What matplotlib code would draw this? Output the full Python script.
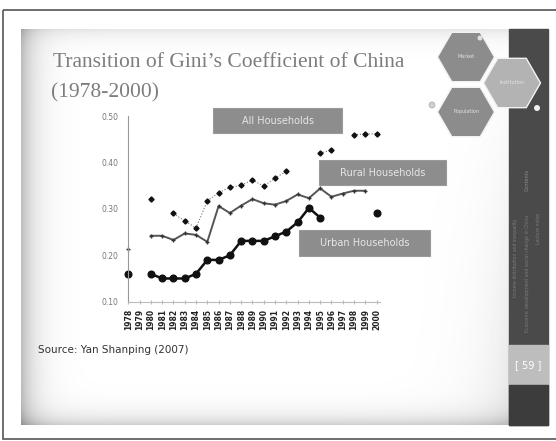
import numpy as np
import matplotlib.pyplot as plt
from matplotlib.patches import Rectangle, RegularPolygon, Circle

# Gini coefficients (missing years left as nan)
years = list(range(1978, 2001))
nan = np.nan
all_households = [nan, nan, 0.322, nan, 0.290, 0.274, 0.259, 0.317, 0.335, 0.346,
                  0.351, 0.362, 0.349, 0.366, 0.381, nan, nan, 0.420, 0.427, nan,
                  0.460, 0.461, 0.462]
rural_households = [0.213, nan, 0.242, 0.242, 0.233, 0.247, 0.244, 0.229, 0.306, 0.291,
                    0.307, 0.321, 0.312, 0.309, 0.317, 0.331, 0.323, 0.344, 0.326, 0.333,
                    0.339, 0.339, nan]
urban_households = [0.160, nan, 0.160, 0.150, 0.150, 0.150, 0.160, 0.190, 0.190, 0.200,
                    0.231, 0.231, 0.231, 0.241, 0.251, 0.271, 0.302, 0.281, nan, nan,
                    nan, nan, 0.292]
yticks = [0.10, 0.20, 0.30, 0.40, 0.50]
series_labels = ["All Households", "Rural Households", "Urban Households"]

fig = plt.figure(figsize=(5.56, 4.41), dpi=100)

# slide background drawn in pixel coordinates
bg = fig.add_axes([0, 0, 1, 1])
bg.set_xlim(0, 556)
bg.set_ylim(441, 0)
bg.axis("off")

bg.add_patch(Rectangle((3, 10), 560, 429, fill=False, ec="#555555", lw=1.2))

h, w = 396, 488
yy, xx = np.mgrid[0:h, 0:w]
shade = (0.26 * np.exp(-xx / 14) + 0.18 * np.exp(-(h - 1 - yy) / 10)
         + 0.10 * np.exp(-yy / 9) + 0.10 * np.exp(-(w - 1 - xx) / 30) * (yy / h))
img = np.clip(1 - shade, 0, 1)
bg.imshow(img, cmap="gray", vmin=0, vmax=1, extent=[21, 509, 425, 29],
          aspect="auto", interpolation="bilinear", zorder=0)

# dark side bar
bg.add_patch(Rectangle((509, 29), 39, 396, color="#4a4a4a", zorder=1))
bg.add_patch(Rectangle((509, 345), 39, 40, color="#bdbdbd", zorder=1))
bg.add_patch(Rectangle((509, 385), 39, 40, color="#3c3c3c", zorder=1))
bg.text(528, 365, "[ 59 ]", color="white", fontsize=7, ha="center", va="center", zorder=2)
bg.text(527, 180, "Contents", rotation=90, color="#8a8a8a", fontsize=3.5,
        ha="center", va="center", zorder=2)
bg.text(516, 258, "Income distribution and inequality", rotation=90, color="#7a7a7a",
        fontsize=3.3, ha="center", va="center", zorder=2)
bg.text(527, 273, "Economic development and social change in China", rotation=90,
        color="#7a7a7a", fontsize=3.3, ha="center", va="center", zorder=2)
bg.text(538, 228, "Lecture notes", rotation=90, color="#7a7a7a", fontsize=3.3,
        ha="center", va="center", zorder=2)

# hexagons top right
hexes = [((466, 57), "#8c8c8c", "Market"), ((512, 83), "#b3b3b3", "Institution"),
         ((466, 112), "#8c8c8c", "Population")]
for (cx, cy), fc, txt in hexes:
    bg.add_patch(RegularPolygon((cx, cy), 6, radius=28.5, orientation=np.pi / 6,
                                fc=fc, ec="#f2f2f2", lw=1, zorder=3))
    bg.text(cx, cy, txt, color="#e4e4e4", fontsize=3.5, ha="center", va="center", zorder=4)
bg.add_patch(Circle((480, 38), 2.5, fc="#e0e0e0", ec="none", zorder=4))
bg.add_patch(Circle((432, 105), 3, fc="#cfcfcf", ec="#aaaaaa", lw=0.5, zorder=4))
bg.add_patch(Circle((537, 108), 3, fc="#f0f0f0", ec="none", zorder=4))

# title and source
bg.text(53, 67, "Transition of Gini\u2019s Coefficient of China", family="Liberation Serif",
        fontsize=15.5, color="#7d7d7d", va="baseline", zorder=2)
bg.text(51, 97, "(1978-2000)", family="Liberation Serif", fontsize=15.5,
        color="#7d7d7d", va="baseline", zorder=2)
bg.text(38, 350, "Source: Yan Shanping (2007)", fontsize=7.5, color="#333333",
        va="center", zorder=2)

# label boxes
boxes = [(213, 108, 129, 25), (319, 160, 127, 25), (299, 230, 131, 26)]
for (bx, by, bw, bh), label in zip(boxes, series_labels):
    bg.add_patch(Rectangle((bx, by), bw, bh, fc="#8d8d8d", ec="#9a9a9a", lw=0.8, zorder=3))
    bg.text(bx + bw / 2, by + bh / 2, label, color="#e6e6e6", fontsize=7,
            ha="center", va="center", zorder=4)

# chart
ax = fig.add_axes([128.3 / 556, 1 - 301.7 / 441, (380 - 128.3) / 556, (301.7 - 116) / 441])
ax.patch.set_alpha(0)
x = np.arange(len(years))
ax.set_xlim(0, 22.3)
ax.set_ylim(0.1, 0.5)

ax.plot(x, all_households, ls=":", color="#777777", lw=0.8, marker="D", ms=2.6,
        mfc="#111111", mec="#111111", clip_on=False)
ax.plot(x, rural_households, color="#555555", lw=1.4, marker="+", ms=3.5,
        mec="#333333", clip_on=False)
ax.plot(x, urban_households, color="#111111", lw=1.8, marker="o", ms=4.8,
        mfc="#111111", mec="#111111", clip_on=False)

for side in ["top", "right"]:
    ax.spines[side].set_visible(False)
ax.spines["left"].set_color("#999999")
ax.spines["bottom"].set_color("#bbbbbb")

ax.set_xticks(x)
ax.set_xticklabels([str(y) for y in years], rotation=90, fontsize=5.5,
                   color="#222222", fontweight="bold")
ax.tick_params(axis="x", length=2.5, direction="inout", color="#bbbbbb", pad=4)
ax.set_yticks(yticks)
ax.set_yticklabels([f"{v:.2f}" for v in yticks], fontsize=5.5, color="#777777")
ax.tick_params(axis="y", length=0, pad=7)

fig.savefig("out.png", dpi=100)
